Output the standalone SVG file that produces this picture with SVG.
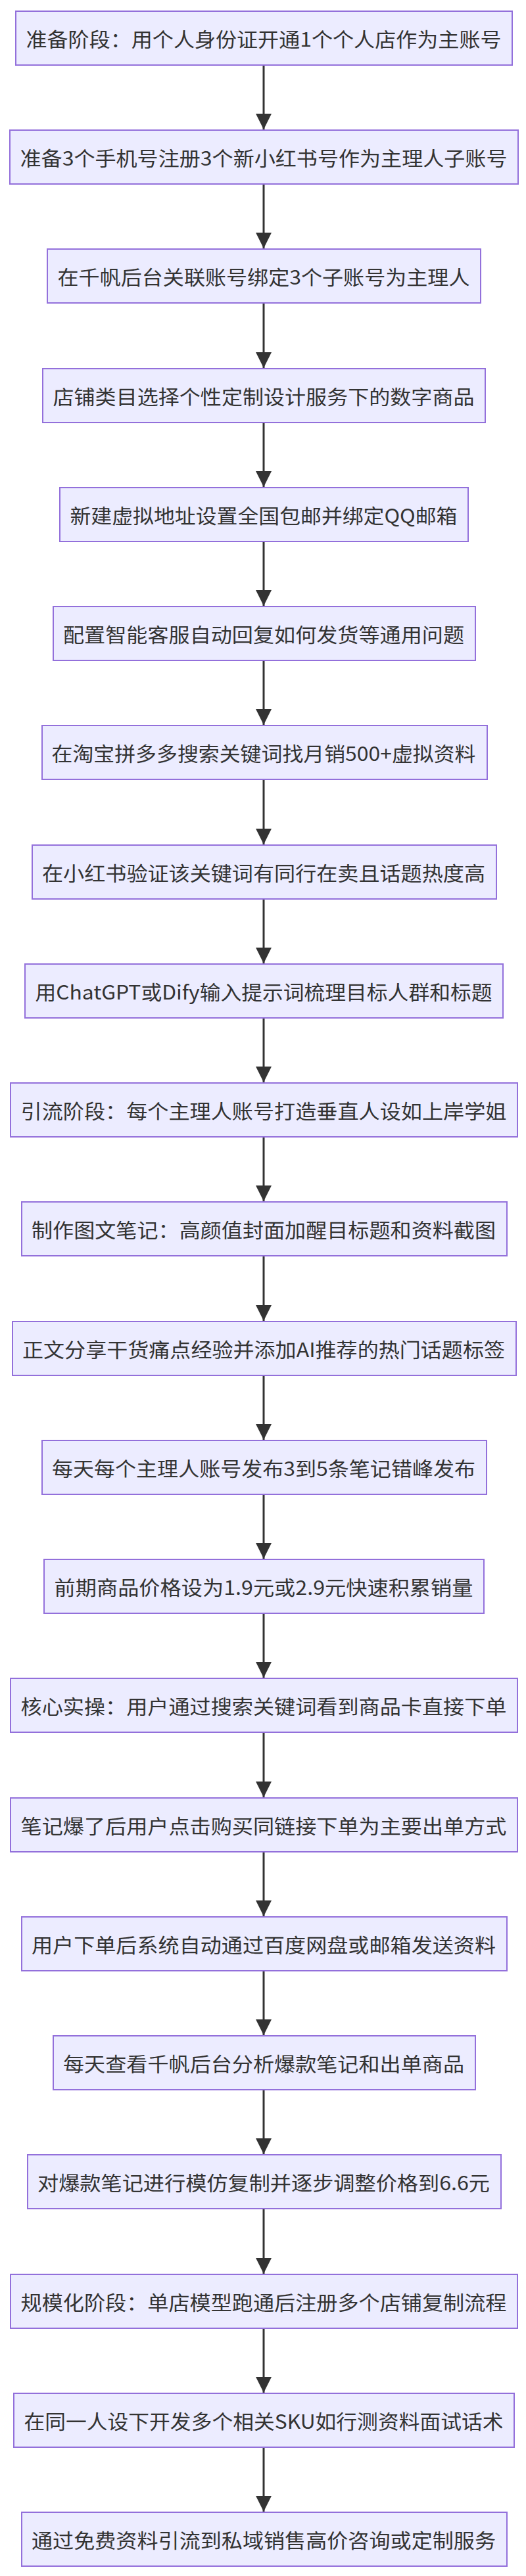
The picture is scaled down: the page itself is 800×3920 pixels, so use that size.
<svg xmlns="http://www.w3.org/2000/svg" width="800" height="3920" viewBox="0 0 800 3920">
<style>
.n rect{fill:#ECECFF;stroke:#9370DB;stroke-width:2}
.n text{font-family:"Noto Sans CJK SC","Noto Sans",sans-serif;font-size:30px;fill:#333;text-anchor:middle;dominant-baseline:central}
.e line{stroke:#333;stroke-width:3}
</style>
<defs><marker id="a" markerUnits="userSpaceOnUse" markerWidth="26" markerHeight="26" refX="24" refY="12" orient="auto"><path d="M0,0L24,12L0,24z" fill="#333"/></marker></defs>
<rect width="800" height="3920" fill="#fff"/>
<g class="e">
<line x1="401" y1="99" x2="401" y2="197" marker-end="url(#a)"/>
<line x1="401" y1="280" x2="401" y2="378" marker-end="url(#a)"/>
<line x1="401" y1="461" x2="401" y2="560" marker-end="url(#a)"/>
<line x1="401" y1="643" x2="401" y2="741" marker-end="url(#a)"/>
<line x1="401" y1="824" x2="401" y2="922" marker-end="url(#a)"/>
<line x1="401" y1="1005" x2="401" y2="1103" marker-end="url(#a)"/>
<line x1="401" y1="1186" x2="401" y2="1285" marker-end="url(#a)"/>
<line x1="401" y1="1368" x2="401" y2="1466" marker-end="url(#a)"/>
<line x1="401" y1="1549" x2="401" y2="1647" marker-end="url(#a)"/>
<line x1="401" y1="1730" x2="401" y2="1828" marker-end="url(#a)"/>
<line x1="401" y1="1911" x2="401" y2="2010" marker-end="url(#a)"/>
<line x1="401" y1="2093" x2="401" y2="2191" marker-end="url(#a)"/>
<line x1="401" y1="2274" x2="401" y2="2372" marker-end="url(#a)"/>
<line x1="401" y1="2455" x2="401" y2="2553" marker-end="url(#a)"/>
<line x1="401" y1="2636" x2="401" y2="2735" marker-end="url(#a)"/>
<line x1="401" y1="2818" x2="401" y2="2916" marker-end="url(#a)"/>
<line x1="401" y1="2999" x2="401" y2="3097" marker-end="url(#a)"/>
<line x1="401" y1="3180" x2="401" y2="3278" marker-end="url(#a)"/>
<line x1="401" y1="3361" x2="401" y2="3460" marker-end="url(#a)"/>
<line x1="401" y1="3543" x2="401" y2="3641" marker-end="url(#a)"/>
<line x1="401" y1="3724" x2="401" y2="3822" marker-end="url(#a)"/>
</g>
<g id="n1" class="n"><rect x="24" y="17" width="755" height="82"/><text x="401" y="58" textLength="723" lengthAdjust="spacingAndGlyphs">准备阶段：用个人身份证开通1个个人店作为主账号</text></g>
<g id="n2" class="n"><rect x="15" y="198" width="773" height="82"/><text x="401" y="239" textLength="741" lengthAdjust="spacingAndGlyphs">准备3个手机号注册3个新小红书号作为主理人子账号</text></g>
<g id="n3" class="n"><rect x="72" y="379" width="659" height="82"/><text x="401" y="420" textLength="627" lengthAdjust="spacingAndGlyphs">在千帆后台关联账号绑定3个子账号为主理人</text></g>
<g id="n4" class="n"><rect x="65" y="561" width="673" height="82"/><text x="401" y="602" textLength="641" lengthAdjust="spacingAndGlyphs">店铺类目选择个性定制设计服务下的数字商品</text></g>
<g id="n5" class="n"><rect x="91" y="742" width="621" height="82"/><text x="401" y="783" textLength="589" lengthAdjust="spacingAndGlyphs">新建虚拟地址设置全国包邮并绑定QQ邮箱</text></g>
<g id="n6" class="n"><rect x="81" y="923" width="642" height="82"/><text x="401" y="964" textLength="610" lengthAdjust="spacingAndGlyphs">配置智能客服自动回复如何发货等通用问题</text></g>
<g id="n7" class="n"><rect x="64" y="1104" width="677" height="82"/><text x="401" y="1145" textLength="645" lengthAdjust="spacingAndGlyphs">在淘宝拼多多搜索关键词找月销500+虚拟资料</text></g>
<g id="n8" class="n"><rect x="49" y="1286" width="706" height="82"/><text x="401" y="1327" textLength="674" lengthAdjust="spacingAndGlyphs">在小红书验证该关键词有同行在卖且话题热度高</text></g>
<g id="n9" class="n"><rect x="38" y="1467" width="727" height="82"/><text x="401" y="1508" textLength="695" lengthAdjust="spacingAndGlyphs">用ChatGPT或Dify输入提示词梳理目标人群和标题</text></g>
<g id="n10" class="n"><rect x="16" y="1648" width="771" height="82"/><text x="401" y="1689" textLength="739" lengthAdjust="spacingAndGlyphs">引流阶段：每个主理人账号打造垂直人设如上岸学姐</text></g>
<g id="n11" class="n"><rect x="33" y="1829" width="738" height="82"/><text x="401" y="1870" textLength="706" lengthAdjust="spacingAndGlyphs">制作图文笔记：高颜值封面加醒目标题和资料截图</text></g>
<g id="n12" class="n"><rect x="19" y="2011" width="766" height="82"/><text x="401" y="2052" textLength="734" lengthAdjust="spacingAndGlyphs">正文分享干货痛点经验并添加AI推荐的热门话题标签</text></g>
<g id="n13" class="n"><rect x="64" y="2192" width="676" height="82"/><text x="401" y="2233" textLength="644" lengthAdjust="spacingAndGlyphs">每天每个主理人账号发布3到5条笔记错峰发布</text></g>
<g id="n14" class="n"><rect x="67" y="2373" width="669" height="82"/><text x="401" y="2414" textLength="637" lengthAdjust="spacingAndGlyphs">前期商品价格设为1.9元或2.9元快速积累销量</text></g>
<g id="n15" class="n"><rect x="16" y="2554" width="771" height="82"/><text x="401" y="2595" textLength="739" lengthAdjust="spacingAndGlyphs">核心实操：用户通过搜索关键词看到商品卡直接下单</text></g>
<g id="n16" class="n"><rect x="16" y="2736" width="771" height="82"/><text x="401" y="2777" textLength="739" lengthAdjust="spacingAndGlyphs">笔记爆了后用户点击购买同链接下单为主要出单方式</text></g>
<g id="n17" class="n"><rect x="33" y="2917" width="738" height="82"/><text x="401" y="2958" textLength="706" lengthAdjust="spacingAndGlyphs">用户下单后系统自动通过百度网盘或邮箱发送资料</text></g>
<g id="n18" class="n"><rect x="81" y="3098" width="642" height="82"/><text x="401" y="3139" textLength="610" lengthAdjust="spacingAndGlyphs">每天查看千帆后台分析爆款笔记和出单商品</text></g>
<g id="n19" class="n"><rect x="42" y="3279" width="720" height="82"/><text x="401" y="3320" textLength="688" lengthAdjust="spacingAndGlyphs">对爆款笔记进行模仿复制并逐步调整价格到6.6元</text></g>
<g id="n20" class="n"><rect x="16" y="3461" width="771" height="82"/><text x="401" y="3502" textLength="739" lengthAdjust="spacingAndGlyphs">规模化阶段：单店模型跑通后注册多个店铺复制流程</text></g>
<g id="n21" class="n"><rect x="21" y="3642" width="761" height="82"/><text x="401" y="3683" textLength="729" lengthAdjust="spacingAndGlyphs">在同一人设下开发多个相关SKU如行测资料面试话术</text></g>
<g id="n22" class="n"><rect x="33" y="3823" width="738" height="82"/><text x="401" y="3864" textLength="706" lengthAdjust="spacingAndGlyphs">通过免费资料引流到私域销售高价咨询或定制服务</text></g>
</svg>
